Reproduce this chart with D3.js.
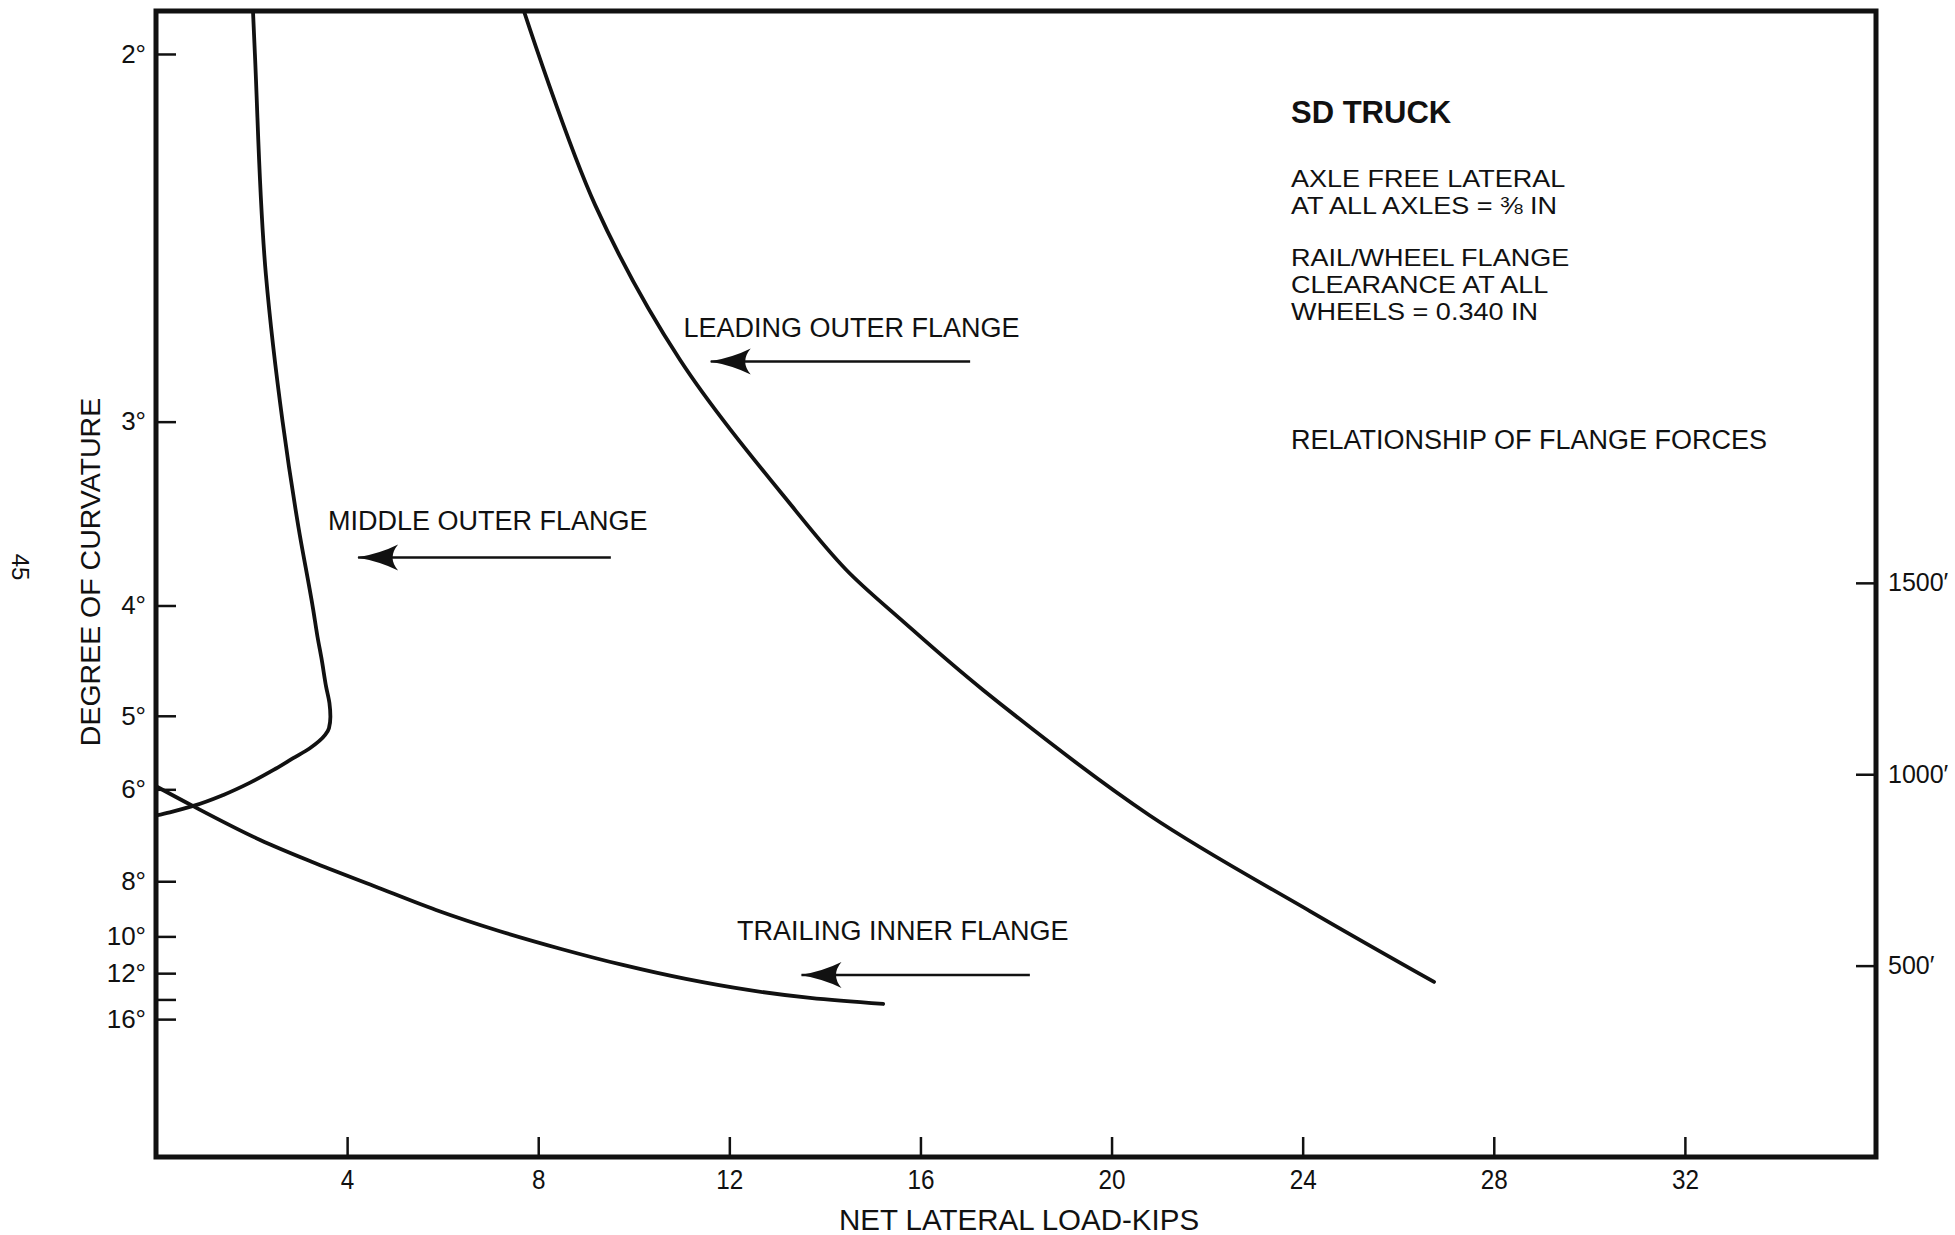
<!DOCTYPE html>
<html lang="en">
<head>
<meta charset="UTF-8">
<title>SD Truck flange forces</title>
<script src="https://d3js.org/d3.v7.min.js"></script>
<style>
  body { margin: 0; background: #fff; }
  svg text { font-family: "Liberation Sans", Arial, Helvetica, sans-serif; fill: #111; }
  .curve { fill: none; stroke: #111; stroke-width: 3.8; stroke-linejoin: round; stroke-linecap: round; }
  .pointer { stroke: #111; stroke-width: 2.5; }
  .tick line { stroke: #111; stroke-width: 2.5; }
</style>
</head>
<body>
<script>
// degree of curvature ticks (left) and curve radius ticks (right, feet)
var degreeTicks = [2, 3, 4, 5, 6, 8, 10, 12, 14, 16];
var radiusTicks = [500, 1000, 1500];
var kipTicks = [4, 8, 12, 16, 20, 24, 28, 32];

// [net lateral load kips, degree of curvature]
var leadingOuter = [
  [7.70, 1.925], [9.19, 2.317], [10.97, 2.768], [13.39, 3.414],
  [14.45, 3.758], [15.60, 4.107], [17.31, 4.723], [20.8, 6.46], [24.15, 8.97],
  [26.75, 12.60]
];
var middleOuter = [
  [2.03, 1.925], [2.07, 2.0], [2.30, 2.5], [2.65, 3.0], [2.98, 3.5],
  [3.29, 4.03], [3.38, 4.24], [3.47, 4.44], [3.56, 4.69], [3.63, 4.86], [3.65, 5.01],
  [3.62, 5.145], [3.54, 5.227], [3.22, 5.397], [2.87, 5.532], [2.46, 5.70],
  [1.97, 5.893], [1.41, 6.093], [0.78, 6.284], [0.29, 6.40], [0.0, 6.46]
];
var trailingInner = [
  [0.0, 5.95], [0.77, 6.284], [2.18, 6.958], [3.27, 7.477], [4.56, 8.138],
  [5.86, 8.93], [7.18, 9.76], [8.48, 10.604], [9.77, 11.488], [11.09, 12.391],
  [12.39, 13.208], [13.69, 13.872], [15.22, 14.416]
];

// label text, label start (kips, degree), arrow from/to (kips) at degree
var curveLabels = ["LEADING OUTER FLANGE", "MIDDLE OUTER FLANGE", "TRAILING INNER FLANGE"];
var labelAt = [[11.04, 2.69], [3.60, 3.52], [12.16, 10.17]];
var arrowAt = [[17.04, 11.61, 2.773], [9.52, 4.23, 3.68], [18.29, 13.51, 12.12]];

var notes = ["AXLE FREE LATERAL", "AT ALL AXLES = \u215C IN", "RAIL/WHEEL FLANGE",
  "CLEARANCE AT ALL", "WHEELS = 0.340 IN"];

var W = 1955, Hh = 1235;
var margin = { top: 11, left: 156, right: 79, bottom: 78 };
var width = W - margin.left - margin.right;
var height = Hh - margin.top - margin.bottom;

var svg = d3.select("body").append("svg")
  .attr("width", W).attr("height", Hh);

var g = svg.append("g")
  .attr("transform", "translate(" + margin.left + "," + margin.top + ")");

var x = d3.scaleLinear().domain([0, 36]).range([0, width]);
// plot is linear in 1/degree (i.e. in radius)
var yInv = d3.scaleLinear().domain([0, 1 / 1.925]).range([height, 0]);
function y(deg) { return yInv(1 / deg); }
var yR = d3.scaleLinear().domain([0, 2994]).range([height, 0]);

svg.append("defs").append("marker")
  .attr("id", "head")
  .attr("markerUnits", "userSpaceOnUse")
  .attr("viewBox", "-50 -16 52 32")
  .attr("markerWidth", 52).attr("markerHeight", 32)
  .attr("refX", 0).attr("refY", 0)
  .attr("orient", "auto")
  .append("path")
  .attr("d", "M1,0 Q-22,-4 -40,-13 Q-29,0 -40,13 Q-22,4 1,0 Z")
  .attr("fill", "#111");

svg.append("clipPath").attr("id", "plot")
  .append("rect").attr("width", width).attr("height", height);

// axes with inward ticks
var leftAxis = d3.axisLeft(yInv)
  .tickValues(degreeTicks.map(function (d) { return 1 / d; }))
  .tickFormat(function (v) {
    var d = Math.round(1 / v);
    return d == 14 ? "" : d + "\u00B0";
  })
  .tickSize(-20).tickPadding(10);
var gl = g.append("g").call(leftAxis);
gl.select(".domain").remove();
gl.selectAll(".tick text").style("font-size", "26px");

var rightAxis = d3.axisRight(yR)
  .tickValues(radiusTicks)
  .tickFormat(function (d) { return d + "\u2032"; })
  .tickSize(-20).tickPadding(12);
var gr = g.append("g").attr("transform", "translate(" + width + ",0)").call(rightAxis);
gr.select(".domain").remove();
gr.selectAll(".tick text").style("font-size", "25px");

var bottomAxis = d3.axisBottom(x)
  .tickValues(kipTicks)
  .tickSize(-20).tickPadding(13);
var gb = g.append("g").attr("transform", "translate(0," + height + ")").call(bottomAxis);
gb.select(".domain").remove();
gb.selectAll(".tick text").style("font-size", "27px").attr("transform", "scale(0.9,1)");

g.selectAll(".tick text").attr("fill", "#111");

// frame
g.append("rect")
  .attr("width", width).attr("height", height)
  .attr("fill", "none").attr("stroke", "#111").attr("stroke-width", 5);

function path(curve) {
  return d3.line()
    .x(function (d) { return x(d[0]); })
    .y(function (d) { return y(d[1]); })
    .curve(curve);
}

var curves = g.append("g").attr("clip-path", "url(#plot)");
curves.append("path").attr("class", "curve")
  .attr("d", path(d3.curveCatmullRom.alpha(0.5))(leadingOuter));
curves.append("path").attr("class", "curve")
  .attr("d", path(d3.curveMonotoneY)(middleOuter));
curves.append("path").attr("class", "curve")
  .attr("d", path(d3.curveMonotoneX)(trailingInner));

// labels + pointers
g.selectAll(".clabel")
  .data(curveLabels)
  .enter().append("text")
  .attr("class", "clabel")
  .attr("x", function (d, i) { return x(labelAt[i][0]); })
  .attr("y", function (d, i) { return y(labelAt[i][1]); })
  .style("font-size", "27px")
  .text(function (d) { return d; });

g.selectAll(".pointer")
  .data(arrowAt)
  .enter().append("line")
  .attr("class", "pointer")
  .attr("x1", function (d) { return x(d[0]); })
  .attr("x2", function (d) { return x(d[1]); })
  .attr("y1", function (d) { return y(d[2]); })
  .attr("y2", function (d) { return y(d[2]); })
  .attr("marker-end", "url(#head)");

// note block
var notesX = 1291;
svg.append("text")
  .attr("x", notesX).attr("y", 123)
  .style("font-size", "31px").style("font-weight", "bold")
  .text("SD TRUCK");

var noteY = [187, 214, 266, 293, 320];
svg.selectAll(".note")
  .data(notes)
  .enter().append("text")
  .attr("class", "note")
  .attr("transform", function (d, i) {
    return "translate(" + notesX + "," + noteY[i] + ") scale(1.15,1)";
  })
  .style("font-size", "23.5px")
  .text(function (d) { return d; });

svg.append("text")
  .attr("x", notesX).attr("y", 449)
  .style("font-size", "27px")
  .text("RELATIONSHIP OF FLANGE FORCES");

// axis titles
svg.append("text")
  .attr("transform", "translate(100," + (margin.top + 561) + ") rotate(-90)")
  .attr("text-anchor", "middle")
  .style("font-size", "28.5px")
  .text("DEGREE OF CURVATURE");

svg.append("text")
  .attr("x", 1019).attr("y", 1230)
  .attr("text-anchor", "middle")
  .style("font-size", "29.5px")
  .text("NET LATERAL LOAD-KIPS");

// page number
svg.append("text")
  .attr("transform", "translate(12,567) rotate(90)")
  .attr("text-anchor", "middle")
  .style("font-size", "24px")
  .text("45");
</script>
</body>
</html>
